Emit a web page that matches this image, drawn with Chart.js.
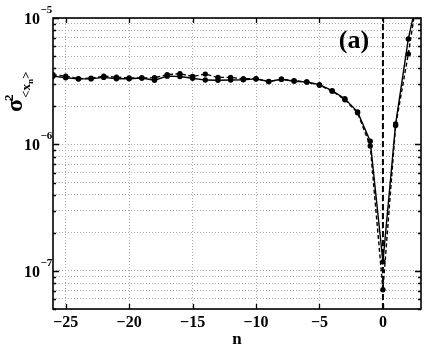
<!DOCTYPE html>
<html><head><meta charset="utf-8">
<script src="https://cdn.jsdelivr.net/npm/chart.js@4"></script>
<style>html,body{margin:0;padding:0;background:#fff;} canvas{display:block;}</style>
</head><body>
<canvas id="c" width="431" height="346"></canvas>
<script>
// ---- data ----
const nValues = [-26,-25,-24,-23,-22,-21,-20,-19,-18,-17,-16,-15,-14,-13,-12,-11,-10,-9,-8,-7,-6,-5,-4,-3,-2,-1,0,1,2,3];
const solidValues = [3.47e-6,3.37e-6,3.30e-6,3.30e-6,3.39e-6,3.31e-6,3.31e-6,3.35e-6,3.22e-6,3.47e-6,3.45e-6,3.34e-6,3.23e-6,3.22e-6,3.23e-6,3.25e-6,3.30e-6,3.15e-6,3.28e-6,3.16e-6,3.12e-6,2.97e-6,2.66e-6,2.30e-6,1.81e-6,1.06e-6,1.18e-7,1.45e-6,6.83e-6,1.94e-5];
const dashedValues = [3.56e-6,3.47e-6,3.31e-6,3.34e-6,3.47e-6,3.40e-6,3.35e-6,3.35e-6,3.37e-6,3.56e-6,3.63e-6,3.45e-6,3.60e-6,3.39e-6,3.39e-6,3.31e-6,3.31e-6,3.14e-6,3.28e-6,3.20e-6,3.12e-6,2.94e-6,2.64e-6,2.26e-6,1.78e-6,0.974e-6,7.1e-8,1.41e-6,5.2e-6,2.3e-5];
const markerLineN = 0;
const xTickValues = [-25,-20,-15,-10,-5,0];
const yMajorTicks = [1e-7,1e-6,1e-5];
const yMajorExponents = ['\u22127','\u22126','\u22125'];
const yGridValues = [5e-8,6e-8,7e-8,8e-8,9e-8,1e-7,2e-7,3e-7,4e-7,5e-7,6e-7,7e-7,8e-7,9e-7,1e-6,2e-6,3e-6,4e-6,5e-6,6e-6,7e-6,8e-6,9e-6,1e-5];
const xRange = [-26, 3];
const yRange = [5e-8, 1e-5];
const panelLabel = '(a)';
const xTitle = 'n';

const SERIF = '"Liberation Serif", "Times New Roman", serif';

const decor = {
  id: 'decor',
  afterDraw(chart) {
    const ctx = chart.ctx, a = chart.chartArea;
    const xs = chart.scales.x, ys = chart.scales.y;
    ctx.save();
    ctx.strokeStyle = '#000';
    ctx.lineWidth = 1.3;
    // ticks
    ctx.beginPath();
    xTickValues.forEach(v => {
      const px = Math.round(xs.getPixelForValue(v)) + 0.5;
      ctx.moveTo(px, a.bottom); ctx.lineTo(px, a.bottom - 5);
      ctx.moveTo(px, a.top); ctx.lineTo(px, a.top + 5);
    });
    yGridValues.forEach(v => {
      const py = Math.round(ys.getPixelForValue(v)) + 0.5;
      const len = yMajorTicks.includes(v) ? 6 : 3;
      ctx.moveTo(a.left, py); ctx.lineTo(a.left + len, py);
      ctx.moveTo(a.right, py); ctx.lineTo(a.right - len, py);
    });
    ctx.stroke();
    // box
    ctx.lineWidth = 1.6;
    ctx.strokeRect(a.left, a.top, a.right - a.left, a.bottom - a.top);
    // y tick labels
    ctx.fillStyle = '#000';
    ctx.textBaseline = 'alphabetic';
    yMajorTicks.forEach((v, i) => {
      const py = ys.getPixelForValue(v);
      ctx.font = 'bold 16px ' + SERIF;
      ctx.textAlign = 'right';
      ctx.fillText('10', 40, py + 6);
      ctx.font = 'bold 11px ' + SERIF;
      ctx.textAlign = 'left';
      ctx.fillText(yMajorExponents[i], 40.5, py - 5);
    });
    // x title
    ctx.font = 'bold 17px ' + SERIF;
    ctx.textAlign = 'center';
    ctx.fillText(xTitle, (a.left + a.right) / 2, 344);
    // panel label
    ctx.font = 'bold 26px ' + SERIF;
    ctx.textAlign = 'center';
    ctx.textBaseline = 'middle';
    ctx.fillText(panelLabel, 354, 41);
    // y title (rotated)
    ctx.save();
    ctx.translate(22, 112);
    ctx.rotate(-Math.PI / 2);
    ctx.textAlign = 'left';
    ctx.textBaseline = 'alphabetic';
    ctx.font = 'bold 24px ' + SERIF;
    ctx.fillText('\u03C3', 0, 0);
    const sw = ctx.measureText('\u03C3').width;
    ctx.font = 'bold 13px ' + SERIF;
    ctx.fillText('2', sw - 2, -9);
    let x = sw + 1;
    ctx.fillText('<x', x, 8);
    x += ctx.measureText('<x').width;
    ctx.font = 'bold 9px ' + SERIF;
    ctx.fillText('n', x, 11);
    x += ctx.measureText('n').width;
    ctx.font = 'bold 13px ' + SERIF;
    ctx.fillText('>', x, 8);
    ctx.restore();
    ctx.restore();
  }
};

const pts = vals => nValues.map((n, i) => ({x: n, y: vals[i]}));

new Chart(document.getElementById('c'), {
  type: 'line',
  data: {
    datasets: [
      {
        data: pts(solidValues),
        borderColor: '#000', backgroundColor: '#000',
        borderWidth: 1.4, pointRadius: 2.7, pointBorderWidth: 0,
        pointBackgroundColor: '#000', tension: 0
      },
      {
        data: pts(dashedValues),
        borderColor: '#000', backgroundColor: '#000',
        borderWidth: 1.4, borderDash: [4, 2.5], pointRadius: 2.7, pointBorderWidth: 0,
        pointBackgroundColor: '#000', tension: 0
      },
      {
        data: [{x: markerLineN, y: yRange[0]}, {x: markerLineN, y: yRange[1]}],
        borderColor: '#000', borderWidth: 2, borderDash: [6, 3], pointRadius: 0
      }
    ]
  },
  options: {
    responsive: false,
    animation: false,
    devicePixelRatio: 1,
    layout: {padding: {top: 18, right: 10, left: 0, bottom: 0}},
    plugins: {legend: {display: false}, tooltip: {enabled: false}},
    scales: {
      x: {
        type: 'linear', min: xRange[0], max: xRange[1],
        afterBuildTicks: s => { s.ticks = xTickValues.map(v => ({value: v})); },
        afterFit: s => { s.height = 37; },
        grid: {color: '#a8a8a8', lineWidth: 1, drawTicks: false},
        border: {display: false, dash: [1, 2]},
        ticks: {
          color: '#000', padding: 4, maxRotation: 0,
          font: {family: SERIF, weight: 'bold', size: 16},
          callback: v => String(v).replace('-', '\u2212')
        }
      },
      y: {
        type: 'logarithmic', min: yRange[0], max: yRange[1],
        afterBuildTicks: s => { s.ticks = yGridValues.map(v => ({value: v})); },
        afterFit: s => { s.width = 53; },
        grid: {color: '#a8a8a8', lineWidth: 1, drawTicks: false},
        border: {display: false, dash: [1, 2]},
        ticks: {display: false}
      }
    }
  },
  plugins: [decor]
});
</script>
</body></html>
